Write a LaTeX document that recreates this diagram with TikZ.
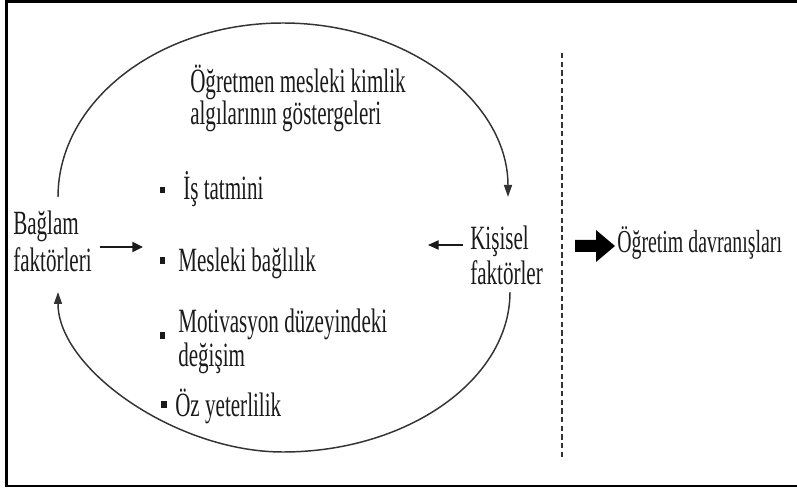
\documentclass[tikz,border=0pt]{standalone}
\usepackage{fontspec}
\setmainfont{Liberation Serif}[FakeStretch=0.62]
\usetikzlibrary{arrows.meta}
\definecolor{ink}{HTML}{1A1A1A}
\definecolor{curve}{HTML}{333333}
\begin{document}
\begin{tikzpicture}[x=0.75pt,y=-0.75pt,
  lbl/.style={anchor=base west,inner sep=0pt,text=ink,font=\fontsize{25.5}{30}\selectfont},
  bulletsq/.style={fill=ink,inner sep=0pt,minimum width=3.8pt,minimum height=5.2pt},
  loop/.style={draw=curve,line width=1.1pt,-{Triangle[length=9pt,width=6pt]}},
  frame/.style={line width=2pt,draw=black}]
\useasboundingbox (0,0) rectangle (797,488);

% outer frame (open on the right)
\draw[frame] (797,1.5) -- (6.5,1.5) -- (6.5,486) -- (797,486);

% heading
\node[lbl] (h1) at (190,93) {Öğretmen mesleki kimlik};
\node[lbl] (h2) at (190,125) {algılarının göstergeleri};

% indicator list
\node[bulletsq] (b1) at (162.5,190) {};
\node[lbl] (is) at (183,200) {İş tatmini};
\node[bulletsq] (b2) at (162.5,260.5) {};
\node[lbl] (mb) at (178,272) {Mesleki bağlılık};
\node[bulletsq] (b3) at (162.5,335.5) {};
\node[lbl] (mot1) at (178,333) {Motivasyon düzeyindeki};
\node[lbl] (mot2) at (178,367) {değişim};
\node[bulletsq] (b4) at (164,404.5) {};
\node[lbl] (oz) at (175,417) {Öz yeterlilik};

% side factors
\node[lbl] (bag1) at (13,235) {Bağlam};
\node[lbl] (bag2) at (13,272) {faktörleri};
\node[lbl] (kis1) at (470,250) {Kişisel};
\node[lbl] (kis2) at (470,285) {faktörler};

% outcome
\node[lbl,font=\fontsize{24}{28}\selectfont] (ogr) at (617,253) {Öğretim davranışları};

% cycle end points
\coordinate (bagTop) at (58,197);
\coordinate (kisTop) at (508,197);
\coordinate (kisBot) at (510,292);
\coordinate (bagBot) at (58,292);
\coordinate (topMid) at (283,23);
\coordinate (botMid) at (283,452);

% upper arc: context -> personal
\draw[loop] (bagTop) .. controls (58,101) and (159,23) .. (topMid)
  .. controls (407,23) and (508,101) .. (kisTop);
% lower arc: personal -> context
\draw[loop] (kisBot) .. controls (510,380) and (407,452) .. (botMid)
  .. controls (176,452) and (58,369) .. (bagBot);

% inward arrows
\coordinate (bagA) at (100,247);
\coordinate (bagB) at (143,247);
\draw[line width=1.6pt,ink,-{Triangle[length=8pt,width=7.5pt]}] (bagA) -- (bagB);
\coordinate (kisA) at (463,245);
\coordinate (kisB) at (428,245);
\draw[line width=0.8pt,ink,-{Triangle[length=8pt,width=7pt]}] (kisA) -- (kisB);

% separator
\coordinate (sepT) at (562,53);
\coordinate (sepB) at (562,460);
\draw[curve,line width=0.8pt,dash pattern=on 4pt off 2.5pt] (sepT) -- (sepB);

% block arrow to the outcome
\fill[black] (575,240) -- (596,240) -- (596,230) -- (615,246) -- (596,262)
  -- (596,252) -- (575,252) -- cycle;
\end{tikzpicture}
\end{document}
